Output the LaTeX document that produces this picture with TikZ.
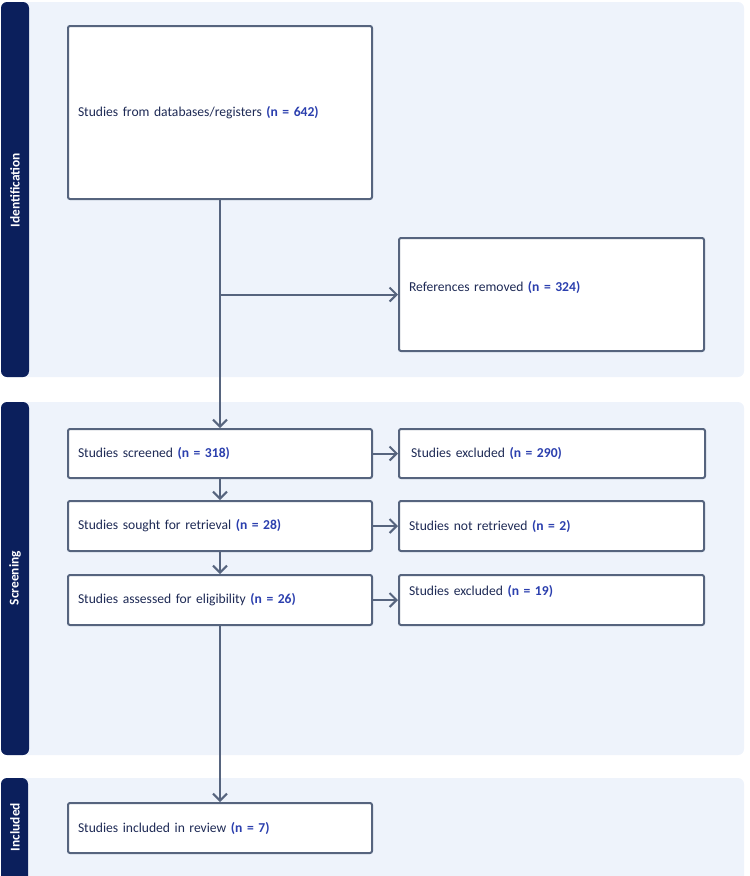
\documentclass[tikz,border=0pt]{standalone}
\usepackage{fontspec}
\setmainfont{Carlito}
\usetikzlibrary{arrows.meta}
\definecolor{bandbg}{HTML}{EEF3FB}
\definecolor{bar}{HTML}{0B1F5C}
\definecolor{edge}{HTML}{56647E}
\definecolor{txt}{HTML}{1E2A55}
\definecolor{numblue}{HTML}{2B3FAE}
\newcommand{\nval}[1]{{\bfseries\color{numblue}(#1)}}
\begin{document}
\begin{tikzpicture}[x=1pt,y=-1pt,
  box/.style={draw=edge, line width=2pt, fill=white, rounded corners=2pt,
    anchor=north west, inner xsep=10pt, inner ysep=0pt, align=left,
    text=txt, font=\fontsize{13.6}{16}\selectfont},
  flow/.style={draw=edge, line width=2pt, -{Straight Barb[length=7pt,width=14pt,line width=2pt]}},
  bandlabel/.style={rotate=90, text=white, font=\bfseries\fontsize{13.4}{15}\selectfont}]
\useasboundingbox (0,0) rectangle (750,876);
\clip (0,0) rectangle (750,876);
% bands
\fill[bandbg, rounded corners=6pt] (1,2) rectangle (744,377);
\fill[bar, rounded corners=6pt] (1,2) rectangle (29,377);
\fill[bandbg, rounded corners=6pt] (1,402) rectangle (744,755);
\fill[bar, rounded corners=6pt] (1,402) rectangle (29,755);
\fill[bandbg, rounded corners=6pt] (1,778) rectangle (744,900);
\fill[bar, rounded corners=6pt] (1,778) rectangle (28,900);
\node[bandlabel] (lid) at (15,190) {Identification};
\node[bandlabel] (lsc) at (15,578) {Screening};
\node[bandlabel] (lin) at (15,827) {Included};
% boxes
\node[box, minimum width=304pt, minimum height=173pt, text width=284pt] (A) at (67,25)
  {Studies from databases/registers \nval{n = 642}};
\node[box, minimum width=305pt, minimum height=113pt, text width=285pt, text depth=17pt] (B) at (398,237)
  {References removed \nval{n = 324}};
\node[box, minimum width=306pt, minimum height=49pt, text width=282pt, inner xsep=12pt] (D) at (398,428)
  {Studies excluded \nval{n = 290}};
\node[box, minimum width=304pt, minimum height=49pt, text width=284pt] (C) at (67,428)
  {Studies screened \nval{n = 318}};
\node[box, minimum width=304pt, minimum height=50pt, text width=284pt] (E) at (67,500)
  {Studies sought for retrieval \nval{n = 28}};
\node[box, minimum width=305pt, minimum height=50pt, text width=285pt] (F) at (398,500)
  {Studies not retrieved \nval{n = 2}};
\node[box, minimum width=304pt, minimum height=50pt, text width=284pt] (G) at (67,574)
  {Studies assessed for eligibility \nval{n = 26}};
\node[box, minimum width=305pt, minimum height=50pt, text width=285pt, text depth=20pt] (H) at (398,574)
  {Studies excluded \nval{n = 19}};
\node[box, minimum width=304pt, minimum height=50pt, text width=284pt] (I) at (67,802)
  {Studies included in review \nval{n = 7}};
% connectors
\coordinate (split) at (A.south |- B.west);
\draw[flow] (A.south) -- (C.north);
\draw[flow] (split) -- (B.west);
\draw[flow] (C.south) -- (E.north);
\draw[flow] (E.south) -- (G.north);
\draw[flow] (G.south) -- (I.north);
\draw[flow] (C.east) -- (D.west);
\draw[flow] (E.east) -- (F.west);
\draw[flow] (G.east) -- (H.west);
\end{tikzpicture}
\end{document}
